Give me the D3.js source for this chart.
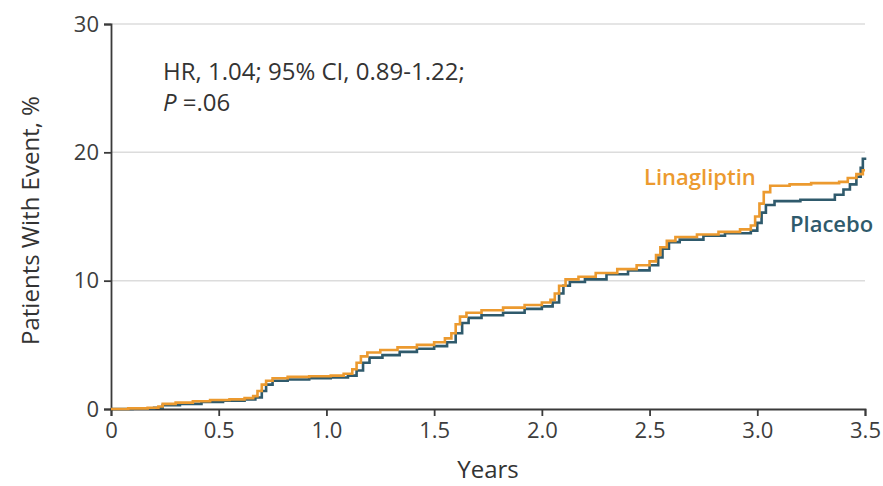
<!DOCTYPE html>
<html>
<head>
<meta charset="utf-8">
<script src="https://cdn.jsdelivr.net/npm/d3@7"></script>
<style>
  html, body { margin: 0; padding: 0; background: #fff; }
  svg { display: block; }
  text { font-family: "Open Sans", Lato, sans-serif; }
</style>
</head>
<body>
<svg id="chart" width="883" height="486"></svg>
<script>
// Cumulative incidence (Kaplan-Meier style) for the two treatment arms
const linagliptinYears = [0, 0.08, 0.17, 0.22, 0.24, 0.30, 0.38, 0.46, 0.55, 0.62, 0.66, 0.68, 0.70, 0.72, 0.75, 0.82, 0.92, 1.02, 1.08, 1.12, 1.14, 1.16, 1.19, 1.25, 1.33, 1.42, 1.50, 1.55, 1.58, 1.60, 1.62, 1.65, 1.72, 1.82, 1.92, 2.00, 2.04, 2.06, 2.08, 2.11, 2.17, 2.25, 2.35, 2.44, 2.50, 2.53, 2.55, 2.58, 2.62, 2.72, 2.82, 2.92, 2.97, 2.99, 3.01, 3.03, 3.06, 3.15, 3.25, 3.38, 3.42, 3.46, 3.49, 3.50];
const linagliptinPct = [0, 0.05, 0.1, 0.2, 0.4, 0.5, 0.6, 0.7, 0.75, 0.85, 1.0, 1.4, 1.9, 2.2, 2.4, 2.5, 2.55, 2.6, 2.75, 3.1, 3.6, 4.1, 4.4, 4.6, 4.8, 5.0, 5.2, 5.5, 5.9, 6.6, 7.2, 7.5, 7.7, 7.9, 8.1, 8.3, 8.5, 9.0, 9.6, 10.1, 10.3, 10.6, 10.9, 11.2, 11.5, 12.0, 12.6, 13.1, 13.4, 13.6, 13.8, 14.0, 14.3, 15.0, 16.0, 16.9, 17.4, 17.5, 17.6, 17.7, 18.0, 18.3, 18.6, 18.6];

const placeboYears = [0, 0.10, 0.20, 0.24, 0.32, 0.42, 0.52, 0.62, 0.67, 0.70, 0.72, 0.75, 0.82, 0.92, 1.02, 1.10, 1.14, 1.17, 1.20, 1.26, 1.34, 1.42, 1.50, 1.56, 1.60, 1.63, 1.66, 1.72, 1.82, 1.92, 2.00, 2.05, 2.08, 2.10, 2.13, 2.20, 2.30, 2.40, 2.50, 2.54, 2.56, 2.59, 2.64, 2.75, 2.85, 2.97, 3.00, 3.02, 3.04, 3.08, 3.20, 3.33, 3.36, 3.40, 3.43, 3.46, 3.48, 3.49, 3.50];
const placeboPct = [0, 0.05, 0.1, 0.3, 0.4, 0.55, 0.65, 0.75, 0.9, 1.4, 1.9, 2.2, 2.3, 2.4, 2.45, 2.6, 3.0, 3.6, 4.0, 4.2, 4.45, 4.7, 4.9, 5.2, 5.9, 6.7, 7.1, 7.3, 7.5, 7.8, 8.0, 8.3, 9.0, 9.6, 9.9, 10.1, 10.5, 10.8, 11.2, 11.8, 12.5, 13.0, 13.2, 13.5, 13.7, 13.9, 14.5, 15.3, 15.9, 16.2, 16.3, 16.3, 16.7, 17.1, 17.5, 18.1, 18.8, 19.5, 19.6];

const xTicks = [0, 0.5, 1.0, 1.5, 2.0, 2.5, 3.0, 3.5];
const yTicks = [0, 10, 20, 30];

const svg = d3.select("#chart");
const margin = { left: 111, right: 18, top: 24, bottom: 77 };
const W = 883, H = 486;
const TICK_FONT = 22, LABEL_FONT = 24, SERIES_FONT = 22;

const x = d3.scaleLinear().domain([0, 3.5]).range([margin.left, W - margin.right]);
const y = d3.scaleLinear().domain([0, 30]).range([H - margin.bottom, margin.top]);

// horizontal gridlines
svg.append("g")
  .selectAll("line")
  .data(yTicks.filter(d => d > 0))
  .join("line")
  .attr("x1", x(0)).attr("x2", x(3.5))
  .attr("y1", d => y(d)).attr("y2", d => y(d))
  .attr("stroke", "#dcdcdc").attr("stroke-width", 1.5);

// axes
const xAxis = svg.append("g")
  .attr("transform", `translate(0,${y(0)})`)
  .call(d3.axisBottom(x).tickValues(xTicks)
    .tickFormat(d => d === 0 ? "0" : d3.format(".1f")(d))
    .tickSizeOuter(0).tickSize(7).tickPadding(6));
const yAxis = svg.append("g")
  .attr("transform", `translate(${x(0)},0)`)
  .call(d3.axisLeft(y).tickValues(yTicks).tickSizeOuter(0).tickSize(7).tickPadding(5));

[xAxis, yAxis].forEach(g => {
  g.select(".domain").attr("stroke", "#3a3a3a").attr("stroke-width", 1.8);
  g.selectAll(".tick line").attr("stroke", "#3a3a3a").attr("stroke-width", 1.8);
  g.selectAll(".tick text").attr("fill", "#3d3d3d").attr("font-size", TICK_FONT)
    .style("font-family", "'Open Sans', sans-serif");
});

// step curves
const line = d3.line()
  .x(d => x(d[0])).y(d => y(d[1]))
  .curve(d3.curveStepAfter);

const placebo = placeboYears.map((t, i) => [t, placeboPct[i]]);
const linagliptin = linagliptinYears.map((t, i) => [t, linagliptinPct[i]]);

svg.append("path").datum(placebo)
  .attr("d", line).attr("fill", "none")
  .attr("stroke", "#2f5a6c").attr("stroke-width", 2.6);
svg.append("path").datum(linagliptin)
  .attr("d", line).attr("fill", "none")
  .attr("stroke", "#ec9a2f").attr("stroke-width", 2.6);

// series labels
svg.append("text").attr("x", 644).attr("y", 185)
  .attr("fill", "#ec9a2f").attr("font-size", SERIES_FONT).attr("font-weight", 600)
  .text("Linagliptin");
svg.append("text").attr("x", 790).attr("y", 232)
  .attr("fill", "#2f5a6c").attr("font-size", SERIES_FONT).attr("font-weight", 600)
  .text("Placebo");

// hazard ratio annotation
svg.append("text").attr("x", 163).attr("y", 80)
  .attr("fill", "#333").attr("font-size", LABEL_FONT)
  .text("HR, 1.04; 95% CI, 0.89-1.22;");
const p = svg.append("text").attr("x", 163).attr("y", 111)
  .attr("fill", "#333").attr("font-size", LABEL_FONT);
p.append("tspan").attr("font-style", "italic").text("P");
p.append("tspan").text(" =.06");

// axis titles
svg.append("text")
  .attr("transform", `translate(39,${(y(0) + y(30)) / 2 + 4}) rotate(-90)`)
  .attr("text-anchor", "middle").attr("fill", "#333").attr("font-size", LABEL_FONT)
  .text("Patients With Event, %");
svg.append("text").attr("x", x(1.75)).attr("y", 478)
  .attr("text-anchor", "middle").attr("fill", "#333").attr("font-size", LABEL_FONT)
  .text("Years");
</script>
</body>
</html>
